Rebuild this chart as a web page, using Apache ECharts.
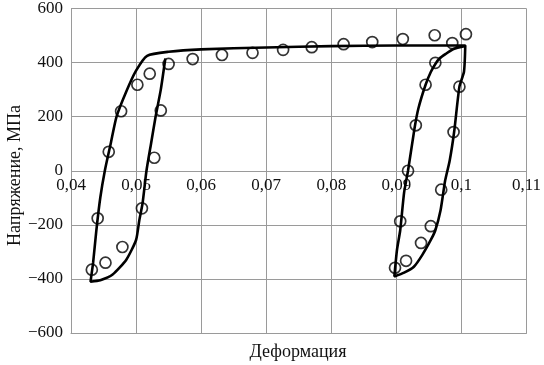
<!DOCTYPE html>
<html>
<head>
<meta charset="utf-8">
<script src="https://cdn.jsdelivr.net/npm/echarts@6/dist/echarts.min.js"></script>
<style>
  html, body { margin: 0; padding: 0; background: #fff; }
  #main { width: 544px; height: 365px; }
</style>
</head>
<body>
<div id="main"></div>
<script>
// расчётная кривая (сплошная линия)
const curveX = [0.0545, 0.0538, 0.0530, 0.0523, 0.0516, 0.0510, 0.0505, 0.0500, 0.0485, 0.0464, 0.0445, 0.0430,
  0.0434, 0.0439, 0.0445, 0.0452, 0.0461, 0.0470, 0.0485, 0.0500, 0.0517, 0.0550, 0.0600, 0.0700, 0.0800, 0.0900, 0.1006,
  0.1004, 0.0997, 0.0989, 0.0982, 0.0975, 0.0968, 0.0960, 0.0953, 0.0940, 0.0927, 0.0912, 0.0897,
  0.0901, 0.0906, 0.0912, 0.0918, 0.0928, 0.0934, 0.0945, 0.0953, 0.0960, 0.0966, 0.0976, 0.0988, 0.1006]
const curveY = [415, 300, 200, 100, 0, -120, -183, -256, -329, -384, -405, -410,
  -340, -220, -100, 0, 100, 200, 293, 370, 425, 440, 449, 456, 461, 463, 463,
  366, 311, 146, 37, -37, -146, -220, -256, -311, -355, -377, -391,
  -293, -220, -80, 0, 157, 231, 318, 365, 395, 414, 432, 450, 461]
// экспериментальные точки (кружки)
const markX = [0.0432, 0.0441, 0.0453, 0.0458, 0.0477, 0.0479, 0.0502, 0.0509, 0.0521, 0.0528, 0.0538, 0.0550, 0.0587,
  0.0632, 0.0679, 0.0726, 0.0770, 0.0819, 0.0863, 0.0910, 0.0959, 0.0986, 0.1007,
  0.0960, 0.0945, 0.0930, 0.0918, 0.0906, 0.0898, 0.0915, 0.0938, 0.0953, 0.0969, 0.0988, 0.0997]
const markY = [-366, -176, -340, 70, 220, -282, 318, -139, 359, 48, 223, 395, 413,
  428, 436, 447, 457, 468, 476, 487, 501, 472, 505,
  399, 318, 168, 0, -187, -359, -333, -267, -205, -70, 143, 311]
const xTicks = { min: 0.04, max: 0.11, step: 0.01 }
const yTicks = { min: -600, max: 600, step: 200 }

const font = 'Liberation Serif'
const gridColor = '#9a9a9a'
const myChart = echarts.init(document.getElementById('main'))
const option = {
  animation: false,
  grid: { left: 71, right: 12, top: 6, bottom: 32 },
  xAxis: {
    type: 'value',
    min: xTicks.min,
    max: xTicks.max,
    interval: xTicks.step,
    axisLine: { onZero: false, lineStyle: { color: gridColor, width: 1 } },
    axisTick: { show: false },
    splitLine: { show: true, lineStyle: { color: gridColor, width: 1 } },
    axisLabel: {
      color: '#111',
      fontFamily: font,
      fontSize: 17,
      // подписи стоят у линии нуля, а не внизу
      margin: -156,
      formatter: (v) => String(+v.toFixed(2)).replace('.', ',')
    }
  },
  yAxis: {
    type: 'value',
    min: yTicks.min,
    max: yTicks.max,
    interval: yTicks.step,
    axisLine: { show: false },
    axisTick: { show: false },
    splitLine: { show: true, lineStyle: { color: gridColor, width: 1 } },
    axisLabel: {
      color: '#111',
      fontFamily: font,
      fontSize: 17,
      margin: 8,
      formatter: (v) => (v < 0 ? '\u2212' + Math.abs(v) : String(v))
    }
  },
  graphic: [
    {
      type: 'text',
      x: 298,
      y: 343,
      style: { text: 'Деформация', font: '18px "Liberation Serif"', fill: '#111', align: 'center' }
    },
    {
      type: 'text',
      x: 6,
      y: 246,
      rotation: Math.PI / 2,
      style: { text: 'Напряжение, МПа', font: '18px "Liberation Serif"', fill: '#111' }
    }
  ],
  series: [
    {
      type: 'line',
      data: curveX.map((x, i) => [x, curveY[i]]),
      showSymbol: false,
      smooth: 0.2,
      lineStyle: { color: '#000', width: 2.6 },
      z: 3
    },
    {
      type: 'scatter',
      data: markX.map((x, i) => [x, markY[i]]),
      symbol: 'circle',
      symbolSize: 11,
      itemStyle: { color: 'rgba(255,255,255,0)', borderColor: '#000', borderWidth: 1.7 },
      z: 4
    }
  ]
}
myChart.setOption(option)
</script>
</body>
</html>
